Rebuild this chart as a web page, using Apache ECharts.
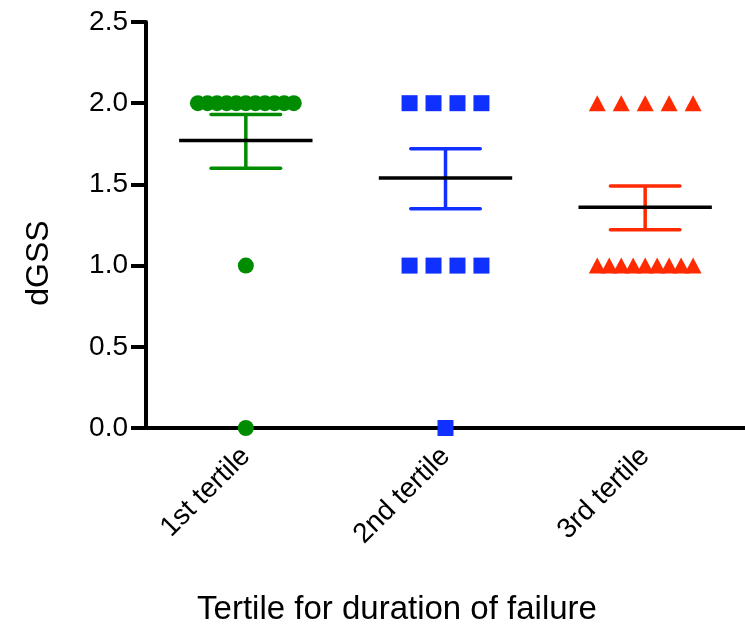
<!DOCTYPE html>
<html>
<head>
<meta charset="utf-8">
<script src="https://cdn.jsdelivr.net/npm/echarts@6/dist/echarts.min.js"></script>
<style>html,body{margin:0;padding:0;background:#fff;}#c{width:745px;height:630px;}</style>
</head>
<body>
<div id="c"></div>
<script>
const categories = ['1st tertile', '2nd tertile', '3rd tertile'];
const tertile1 = [2, 2, 2, 2, 2, 2, 2, 2, 2, 2, 2, 1, 0];
const tertile2 = [2, 2, 2, 2, 1, 1, 1, 1, 0];
const tertile3 = [2, 2, 2, 2, 2, 1, 1, 1, 1, 1, 1, 1, 1, 1];
const means = [1.77, 1.54, 1.36];
const semLow = [1.60, 1.35, 1.22];
const semHigh = [1.93, 1.72, 1.49];
const yAxisName = 'dGSS';
const xAxisName = 'Tertile for duration of failure';

const FONT = "'Liberation Sans', Arial, sans-serif";
const colors = ['#008c00', '#1030ff', '#ff2a00'];
const symbols = ['circle', 'rect', 'triangle'];
const symbolSizes = [16, 16, [17, 16]];

function spread(values, gi) {
  const counts = {};
  values.forEach(v => { counts[v] = (counts[v] || 0) + 1; });
  const pts = [];
  Object.keys(counts).forEach(k => {
    const n = counts[k];
    const s = n > 1 ? Math.min(0.12, 0.48 / (n - 1)) : 0;
    for (let i = 0; i < n; i++) pts.push([gi + (i - (n - 1) / 2) * s, Number(k)]);
  });
  return pts;
}

const groups = [tertile1, tertile2, tertile3];
const summary = means.map((m, i) => [i, m, semLow[i], semHigh[i]]);

const series = [{
  type: 'custom',
  xAxisIndex: 1,
  yAxisIndex: 0,
  data: summary,
  z: 1,
  renderItem: function (params, api) {
    const i = api.value(0);
    const c = colors[params.dataIndex];
    const p = (x, y) => api.coord([x, y]);
    const mh = 0.334, ch = 0.174;
    const mk = (a, b, col, cap) => ({ type: 'line', shape: { x1: a[0], y1: a[1], x2: b[0], y2: b[1] }, style: { stroke: col, lineWidth: 3.5, lineCap: cap } });
    return {
      type: 'group',
      children: [
        mk(p(i, api.value(2)), p(i, api.value(3)), c, 'butt'),
        mk(p(i - ch, api.value(2)), p(i + ch, api.value(2)), c, 'round'),
        mk(p(i - ch, api.value(3)), p(i + ch, api.value(3)), c, 'round'),
        mk(p(i - mh, api.value(1)), p(i + mh, api.value(1)), '#000', 'butt')
      ]
    };
  }
}];
groups.forEach((g, gi) => {
  series.push({
    type: 'scatter',
    xAxisIndex: 1,
    yAxisIndex: 0,
    clip: false,
    z: 3,
    symbol: symbols[gi],
    symbolSize: symbolSizes[gi],
    itemStyle: { color: colors[gi], opacity: 1 },
    data: spread(g, gi)
  });
});

const chart = echarts.init(document.getElementById('c'));
chart.setOption({
  animation: false,
  backgroundColor: '#fff',
  grid: { left: 146, right: -10, top: 22, bottom: 202, containLabel: false },
  xAxis: [{
    type: 'category',
    data: categories,
    boundaryGap: true,
    axisLine: { onZero: false, lineStyle: { color: '#000', width: 4 } },
    axisTick: { alignWithLabel: true, length: 15, lineStyle: { color: '#000', width: 4 } },
    axisLabel: { rotate: 45, fontSize: 28, fontFamily: FONT, color: '#000', margin: 24 },
    splitLine: { show: false }
  }, {
    type: 'value',
    min: -0.5,
    max: 2.5,
    show: false
  }],
  yAxis: {
    type: 'value',
    min: 0,
    max: 2.5,
    interval: 0.5,
    axisLine: { show: true, onZero: false, lineStyle: { color: '#000', width: 4 } },
    axisTick: { show: true, length: 15, lineStyle: { color: '#000', width: 4 } },
    axisLabel: { fontSize: 28, fontFamily: FONT, color: '#000', margin: 18, formatter: v => v.toFixed(1) },
    splitLine: { show: false }
  },
  graphic: [{
    type: 'text',
    x: 39, y: 263,
    rotation: Math.PI / 2,
    style: { text: yAxisName, font: '32px ' + FONT, fill: '#000', textAlign: 'center', textVerticalAlign: 'middle' }
  }, {
    type: 'text',
    x: 397, y: 610,
    style: { text: xAxisName, font: '33px ' + FONT, fill: '#000', textAlign: 'center', textVerticalAlign: 'middle' }
  }],
  series: series
});
</script>
</body>
</html>
